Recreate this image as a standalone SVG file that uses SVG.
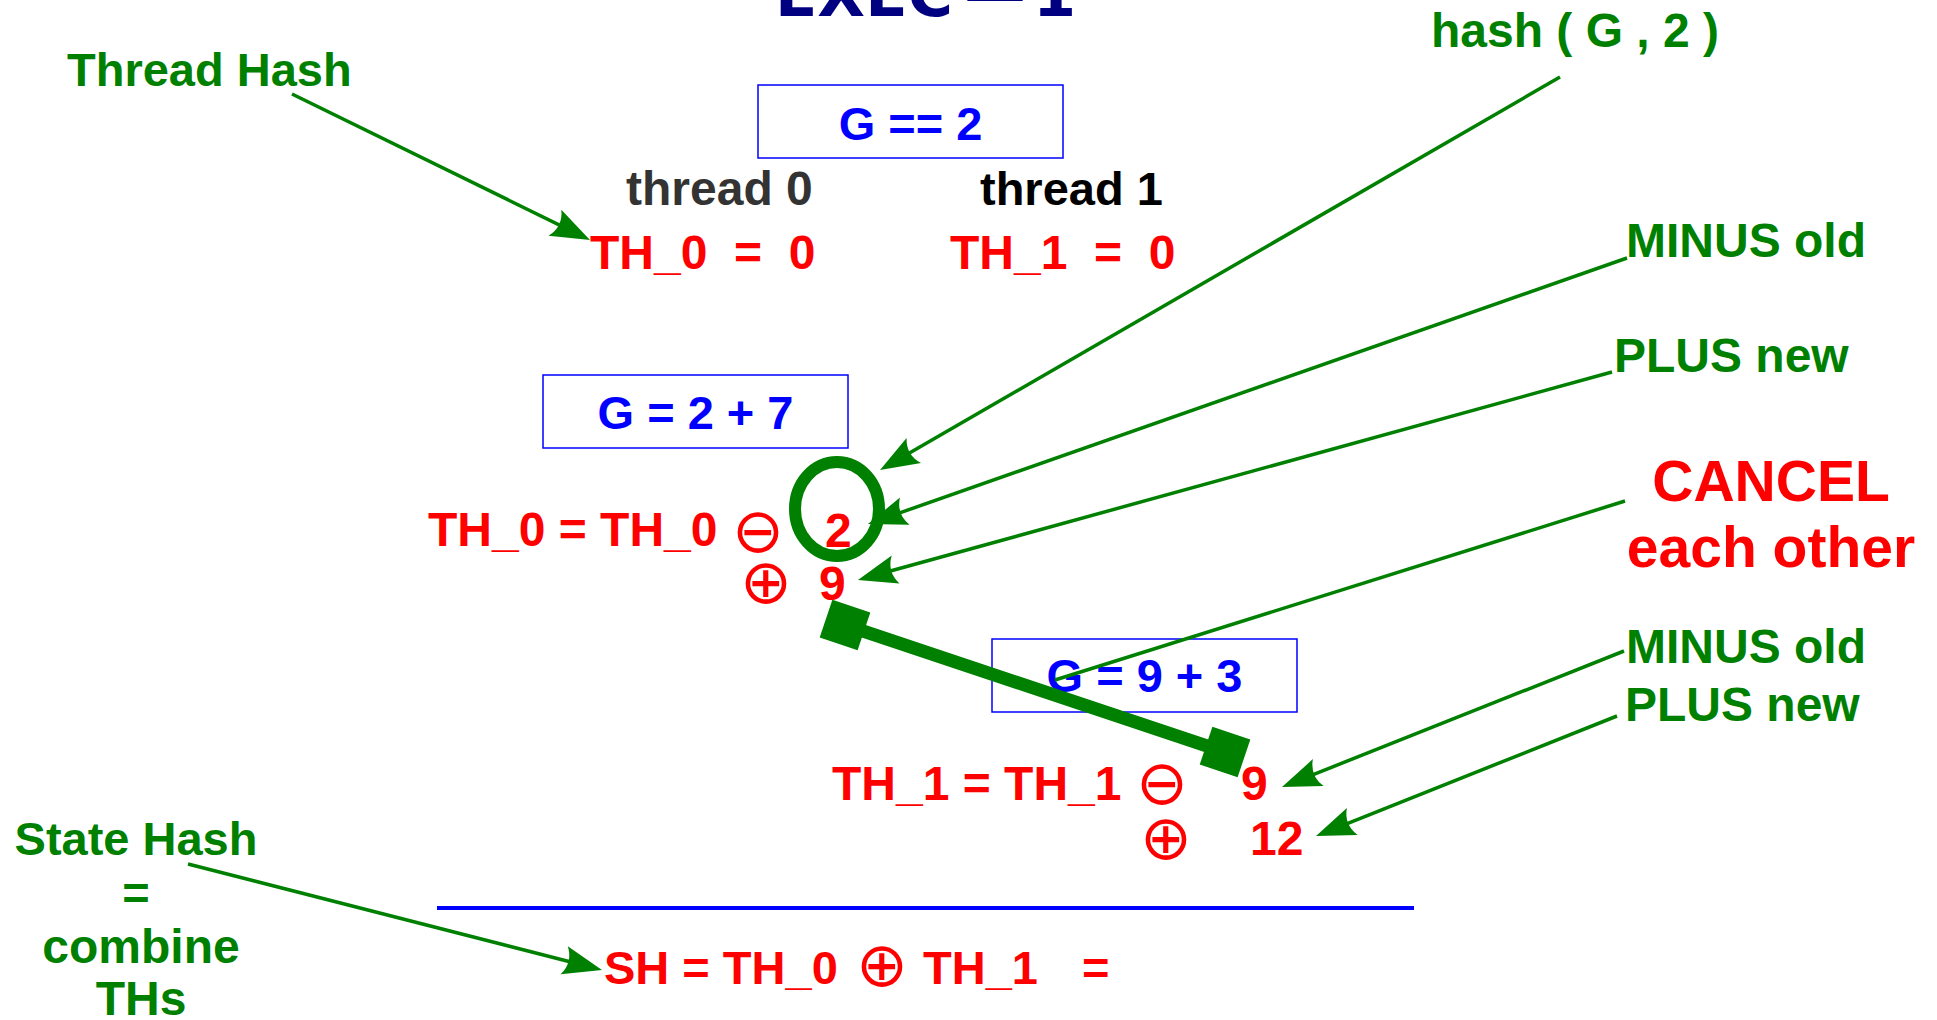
<svg xmlns="http://www.w3.org/2000/svg" width="1937" height="1020" viewBox="0 0 1937 1020">
<style>
text{font-family:"Liberation Sans",Arial,sans-serif;font-weight:bold}
.g{fill:#008000}
.r{fill:#ff0000}
.b{fill:#0000ff}
.op{font-family:"DejaVu Sans",sans-serif;font-weight:normal;font-size:62px;text-anchor:middle;fill:#ff0000}
.box{fill:none;stroke:#0000ff;stroke-width:1.5}
.arr{stroke:#008000;stroke-width:3.5;fill:none}
</style>
<defs>
<marker id="ah" markerUnits="userSpaceOnUse" viewBox="-42 -17 44 34" markerWidth="44" markerHeight="34" refX="-10" refY="0" orient="auto">
<path d="M0,0 L-39,-14.5 Q-30,0 -39,14.5 Z" fill="#008000"/>
</marker>
</defs>
<rect width="1937" height="1020" fill="#ffffff"/>

<g id="title">
<text style="font-family:'DejaVu Sans',sans-serif" font-size="62" fill="#000080" y="16"><tspan x="775">EXEC</tspan><tspan x="964" y="14">—</tspan><tspan x="1033" y="16">1</tspan></text>
</g>

<g id="box-g2">
<rect class="box" x="758" y="85" width="305" height="73"/>
<text class="b" x="910.5" y="140" font-size="47" text-anchor="middle">G == 2</text>
</g>
<g id="thread0">
<text x="626" y="205" font-size="48" fill="#333333">thread 0</text>
<text class="r" x="590" y="269" font-size="48" xml:space="preserve">TH_0  =  0</text>
</g>
<g id="thread1">
<text x="980" y="205" font-size="47" fill="#000000">thread 1</text>
<text class="r" x="950" y="269" font-size="48" xml:space="preserve">TH_1  =  0</text>
</g>

<g id="box-g27">
<rect class="box" x="543" y="375" width="305" height="73"/>
<text class="b" x="695.5" y="429" font-size="47" text-anchor="middle">G = 2 + 7</text>
</g>
<g id="th0-update">
<text class="r" x="428" y="546" font-size="48">TH_0 = TH_0</text>
<text class="op" x="758" y="552">⊖</text>
<text class="r" x="825" y="547" font-size="48">2</text>
<text class="op" x="766" y="603">⊕</text>
<text class="r" x="819" y="600" font-size="48">9</text>
</g>

<g id="box-g93">
<rect class="box" x="992" y="639" width="305" height="73"/>
<text class="b" x="1144.5" y="692" font-size="47" text-anchor="middle">G = 9 + 3</text>
</g>
<g id="th1-update">
<text class="r" x="832" y="800" font-size="48">TH_1 = TH_1</text>
<text class="op" x="1162" y="804">⊖</text>
<text class="r" x="1241" y="800" font-size="48">9</text>
<text class="op" x="1166" y="859">⊕</text>
<text class="r" x="1250" y="855" font-size="48">12</text>
</g>

<g id="sh">
<line x1="437" y1="908" x2="1414" y2="908" stroke="#0000ff" stroke-width="4"/>
<text class="r" y="984" font-size="47"><tspan x="604">SH = TH_0</tspan><tspan x="923">TH_1</tspan><tspan x="1082">=</tspan></text>
<text class="op" x="882" y="986">⊕</text>
</g>

<g id="label-thread-hash"><text class="g" x="67" y="86" font-size="47">Thread Hash</text></g>
<g id="label-state-hash">
<text class="g" font-size="47" text-anchor="middle"><tspan x="136" y="855">State Hash</tspan><tspan x="136" y="909">=</tspan><tspan x="141" y="963" font-size="48">combine</tspan><tspan x="141" y="1015" font-size="48">THs</tspan></text>
</g>
<g id="label-hash"><text class="g" x="1431" y="47" font-size="48">hash ( G , 2 )</text></g>
<g id="label-minus1"><text class="g" x="1626" y="257" font-size="48">MINUS old</text></g>
<g id="label-plus1"><text class="g" x="1614" y="372" font-size="48">PLUS new</text></g>
<g id="label-cancel">
<text class="r" font-size="57" text-anchor="middle"><tspan x="1771" y="501">CANCEL</tspan><tspan x="1771" y="567">each other</tspan></text>
</g>
<g id="label-minus2"><text class="g" x="1626" y="663" font-size="48">MINUS old</text></g>
<g id="label-plus2"><text class="g" x="1625" y="721" font-size="48">PLUS new</text></g>

<g id="connectors">
<ellipse cx="837" cy="509" rx="42" ry="47" fill="none" stroke="#008000" stroke-width="12"/>
<line x1="845" y1="625" x2="1225" y2="752" stroke="#008000" stroke-width="13"/>
<rect x="-20" y="-20" width="40" height="40" fill="#008000" transform="translate(845 625) rotate(18.5)"/>
<rect x="-20" y="-20" width="40" height="40" fill="#008000" transform="translate(1225 752) rotate(18.5)"/>
<line class="arr" x1="292" y1="94" x2="581" y2="235.6" marker-end="url(#ah)"/>
<line class="arr" x1="188" y1="864" x2="592.3" y2="967.5" marker-end="url(#ah)"/>
<line class="arr" x1="1560" y1="77" x2="888.7" y2="465" marker-end="url(#ah)"/>
<line class="arr" x1="1627" y1="258" x2="877.4" y2="520.7" marker-end="url(#ah)"/>
<line class="arr" x1="1612" y1="372" x2="867.6" y2="577.3" marker-end="url(#ah)"/>
<line class="arr" x1="1625" y1="501" x2="1055" y2="680"/>
<line class="arr" x1="1624" y1="651" x2="1291.3" y2="783.3" marker-end="url(#ah)"/>
<line class="arr" x1="1617" y1="716" x2="1325.3" y2="832.3" marker-end="url(#ah)"/>
</g>
</svg>
